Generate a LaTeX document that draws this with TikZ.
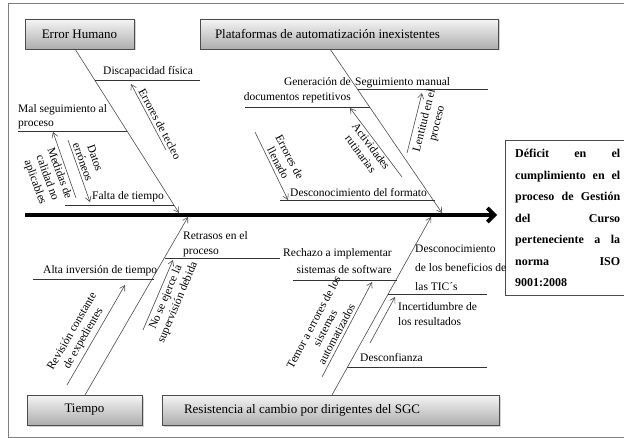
\documentclass[tikz,border=0pt]{standalone}
\usepackage{fontspec}
\setmainfont{Liberation Serif}
\usetikzlibrary{arrows.meta,shadows}
\begin{document}
\begin{tikzpicture}[x=1pt,y=-1pt,
  cause/.style={draw=black!70, line width=0.7pt, top color=black!4, bottom color=black!32,
    minimum height=30pt, inner sep=0pt, font=\fontsize{13}{15}\selectfont,
    drop shadow={shadow xshift=1.5pt, shadow yshift=-1.5pt, opacity=0.35}},
  bone/.style={draw=black!70, line width=0.6pt, -{Straight Barb[length=5pt,width=6pt]}},
  subline/.style={draw=black!80, line width=0.6pt},
  lbl/.style={inner sep=0pt, font=\fontsize{11.5}{14}\selectfont},
  rlbl/.style={inner sep=0pt, align=center, font=\fontsize{11.5}{13}\selectfont}
]
\useasboundingbox (0,0) rectangle (624,438);
\clip (0,0) rectangle (624,438);
% frame
\draw[black!50, line width=0.6pt] (630,3) -- (8,3) -- (8,437) -- (630,437);

% category boxes
\node[cause, minimum width=109pt] (eh) at (79.5,34) {Error Humano};
\node[cause, minimum width=298pt] (pl) at (349,34) {\hbox to 298pt{\hspace{15pt}Plataformas de automatización inexistentes\hfill}};
\node[cause, minimum width=115pt] (ti) at (84.5,410) {Tiempo};
\node[cause, minimum width=337pt] (re) at (330.5,410) {\hbox to 337pt{\hspace{22pt}Resistencia al cambio por dirigentes del SGC\hfill}};

% effect box
\node[draw=black!70, line width=0.7pt, anchor=north west, minimum width=130pt, minimum height=155pt, inner sep=0pt] (goal) at (505,140) {};
\node[inner sep=0pt, anchor=base west, align=left, font=\fontsize{12}{21.5}\selectfont\bfseries] (goaltext) at (515,287) {%
\hbox to 105pt{Déficit\hfill en\hfill el}\\
\hbox to 105pt{cumplimiento\hfill en\hfill el}\\
\hbox to 105pt{proceso\hfill de\hfill Gestión}\\
\hbox to 105pt{del\hfill Curso}\\
\hbox to 105pt{perteneciente\hfill a\hfill la}\\
\hbox to 105pt{norma\hfill ISO}\\
9001:2008};

% spine
\coordinate (s0) at (25,215);
\coordinate (s1) at (497,215);
\draw[line width=3.8pt, -{Straight Barb[length=7pt,width=14pt]}] (s0) -- (s1);

% main bones
\coordinate (eb0) at (75,49);   \coordinate (eb1) at (179,213);
\coordinate (pb0) at (330,49);  \coordinate (pb1) at (442,213);
\coordinate (tb0) at (85,395);  \coordinate (tb1) at (188,217);
\coordinate (rb0) at (332,395); \coordinate (rb1) at (431,217);
\draw[bone] (eb0) -- (eb1);
\draw[bone] (pb0) -- (pb1);
\draw[bone] (tb0) -- (tb1);
\draw[bone] (rb0) -- (rb1);

% ---- Error Humano ----
\coordinate (d0) at (95,80); \coordinate (d1) at (200,80);
\draw[subline] (d0) -- (d1);
\node[lbl, anchor=base west] (discap) at (103,75) {Discapacidad física};
\coordinate (m0) at (18,131); \coordinate (m1) at (127,131);
\draw[subline] (m0) -- (m1);
\node[lbl, anchor=base west, align=left] (malseg) at (18,127) {Mal seguimiento al\\proceso};
\coordinate (f0) at (65,205); \coordinate (f1) at (174,205);
\draw[subline] (f0) -- (f1);
\node[lbl, anchor=base west] (falta) at (92,200) {Falta de tiempo};
\coordinate (et0) at (166,150); \coordinate (et1) at (131,84);
\draw[bone] (et0) -- (et1);
\node[rlbl, rotate=-62] (tecleo) at (160,124) {Errores de tecleo};
\coordinate (de0) at (68,140); \coordinate (de1) at (90,202);
\draw[bone] (de0) -- (de1);
\node[rlbl, rotate=-70] (datos) at (89,160) {Datos\\erróneos};
\coordinate (mc0) at (76,198); \coordinate (mc1) at (53,132);
\draw[bone] (mc0) -- (mc1);
\node[rlbl, rotate=-70] (medidas) at (47,178) {Medidas de\\calidad no\\aplicables};

% ---- Plataformas ----
\coordinate (sm0) at (358,89); \coordinate (sm1) at (488,89);
\draw[subline] (sm0) -- (sm1);
\node[lbl, anchor=base west] (segman) at (355,86) {Seguimiento manual};
\coordinate (g0) at (245,107); \coordinate (g1) at (370,107);
\draw[subline] (g0) -- (g1);
\node[lbl, anchor=base east, align=right, font=\fontsize{11.5}{15}\selectfont] (gener) at (351,101) {Generación de\\documentos repetitivos};
\coordinate (df0) at (280,200); \coordinate (df1) at (435,200);
\draw[subline] (df0) -- (df1);
\node[lbl, anchor=base west] (desform) at (290,197) {Desconocimiento del formato};
\coordinate (lp0) at (407,153); \coordinate (lp1) at (422,93);
\draw[bone] (lp0) -- (lp1);
\node[rlbl, rotate=76] (lentitud) at (431,122) {Lentitud en el\\proceso};
\coordinate (ar0) at (402,177); \coordinate (ar1) at (350,108);
\draw[bone] (ar0) -- (ar1);
\node[rlbl, rotate=-53] (activ) at (366,150) {Actividades\\rutinarias};
\coordinate (el0) at (255,132); \coordinate (el1) at (288,200);
\draw[bone] (el0) -- (el1);
\node[rlbl, rotate=-62] (llenado) at (284,160) {Errores de\\llenado};

% ---- Tiempo ----
\coordinate (rp0) at (165,258); \coordinate (rp1) at (280,258);
\draw[subline] (rp0) -- (rp1);
\node[lbl, anchor=base west, align=left, font=\fontsize{11.5}{15}\selectfont] (retrasos) at (183,255) {Retrasos en el\\proceso};
\coordinate (ai0) at (33,279); \coordinate (ai1) at (154,279);
\draw[subline] (ai0) -- (ai1);
\node[lbl, anchor=base west] (alta) at (43,274) {Alta inversión de tiempo};
\coordinate (ns0) at (143,330); \coordinate (ns1) at (173,260);
\draw[bone] (ns0) -- (ns1);
\node[rlbl, rotate=67] (nose) at (172,300) {No se ejerce la\\supervisión debida};
\coordinate (rc0) at (67,385); \coordinate (rc1) at (125,285);
\draw[bone] (rc0) -- (rc1);
\node[rlbl, rotate=60] (revision) at (78,335) {Revisión constante\\de expedientes};

% ---- Resistencia ----
\coordinate (rz0) at (293,280); \coordinate (rz1) at (397,280);
\draw[subline] (rz0) -- (rz1);
\node[lbl, anchor=base east, align=right, font=\fontsize{11.5}{17}\selectfont] (rechazo) at (392,274) {Rechazo a implementar\\sistemas de software};
\coordinate (dc0) at (388,294); \coordinate (dc1) at (487,294);
\draw[subline] (dc0) -- (dc1);
\node[lbl, anchor=base west, align=left, font=\fontsize{11.5}{19}\selectfont] (desben) at (415,291) {Desconocimiento\\de los beneficios de\\las TIC´s};
\coordinate (cf0) at (347,367); \coordinate (cf1) at (487,367);
\draw[subline] (cf0) -- (cf1);
\node[lbl, anchor=base west] (desconf) at (360,362) {Desconfianza};
\coordinate (te0) at (322,377); \coordinate (te1) at (372,282);
\draw[bone] (te0) -- (te1);
\node[rlbl, rotate=62] (temor) at (325,328) {Temor a errores de los\\sistemas\\automatizados};
\coordinate (in0) at (370,343); \coordinate (in1) at (395,297);
\draw[bone] (in0) -- (in1);
\node[lbl, anchor=base west, align=left, font=\fontsize{11.5}{15}\selectfont] (incert) at (398,326) {Incertidumbre de\\los resultados};
\end{tikzpicture}
\end{document}
